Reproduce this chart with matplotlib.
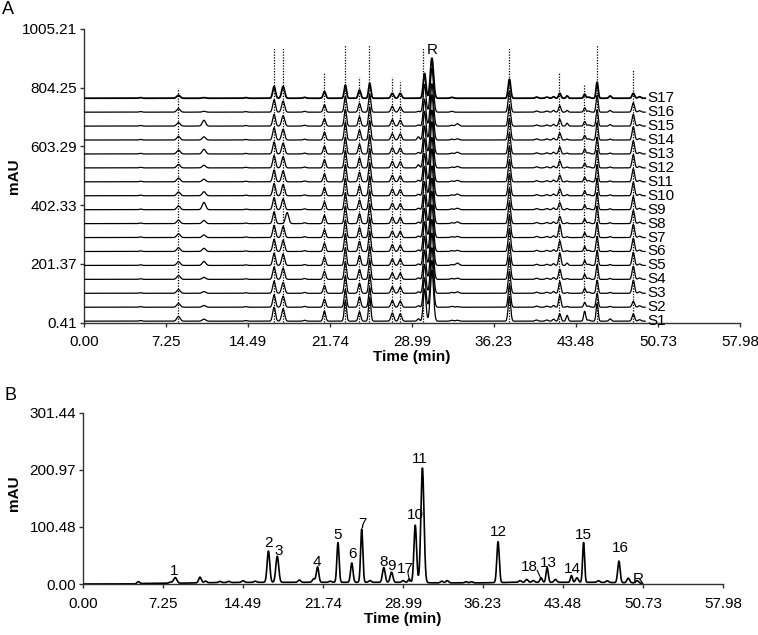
import numpy as np
import matplotlib
matplotlib.use("Agg")
import matplotlib.pyplot as plt

plt.rcParams['font.family'] = ['Liberation Sans', 'DejaVu Sans']

# ---------------- data ----------------
x_ticks = [0.00, 7.25, 14.49, 21.74, 28.99, 36.23, 43.48, 50.73, 57.98]
x_tick_labels = ["0.00", "7.25", "14.49", "21.74", "28.99", "36.23", "43.48", "50.73", "57.98"]
a_y_ticks = [0.41, 201.37, 402.33, 603.29, 804.25, 1005.21]
a_y_tick_labels = ["0.41", "201.37", "402.33", "603.29", "804.25", "1005.21"]
b_y_ticks = [0.00, 100.48, 200.97, 301.44]
b_y_tick_labels = ["0.00", "100.48", "200.97", "301.44"]

sample_names = ["S1", "S2", "S3", "S4", "S5", "S6", "S7", "S8", "S9",
                "S10", "S11", "S12", "S13", "S14", "S15", "S16", "S17"]

# common peaks 1..16, then 17, 18
peak_labels = ["1", "2", "3", "4", "5", "6", "7", "8", "9", "10",
               "11", "12", "13", "14", "15", "16", "17", "18"]
peak_rt = [8.35, 16.8, 17.6, 21.25, 23.1, 24.35, 25.25, 27.25, 27.95, 30.1,
           30.75, 37.6, 42.05, 44.25, 45.35, 48.55, 29.55, 41.5]
peak_sigma = [0.15, 0.12, 0.13, 0.11, 0.10, 0.11, 0.10, 0.12, 0.12, 0.12,
              0.14, 0.11, 0.10, 0.09, 0.09, 0.11, 0.10, 0.10]

# panel A: heights (mAU) of peaks 1..18 for each sample
hA_S1  = [16, 48, 42, 34, 70, 32, 80, 28, 25, 110, 175, 85, 25, 34, 60, 25, 8, 7]
hA_S2  = [13, 42, 38, 28, 61, 35, 67, 23, 21, 101, 160, 77, 40, 17, 48, 20, 5, 6]
hA_S3  = [13, 41, 37, 27, 60, 34, 66, 22, 21, 99, 156, 75, 40, 17, 45, 45, 5, 6]
hA_S4  = [13, 42, 38, 28, 61, 34, 67, 22, 21, 100, 158, 76, 35, 17, 51, 45, 5, 6]
hA_S5  = [13, 42, 38, 28, 60, 34, 66, 22, 21, 100, 157, 75, 43, 17, 51, 45, 5, 6]
hA_S6  = [13, 42, 38, 28, 61, 35, 68, 23, 21, 102, 160, 77, 37, 17, 52, 45, 5, 6]
hA_S7  = [13, 42, 38, 27, 60, 34, 66, 22, 21, 100, 158, 76, 45, 17, 52, 45, 5, 6]
hA_S8  = [12, 40, 0, 28, 60, 34, 66, 22, 21, 98, 155, 74, 25, 16, 60, 45, 5, 6]
hA_S9  = [13, 41, 37, 27, 58, 33, 64, 22, 20, 96, 150, 73, 24, 16, 58, 45, 5, 6]
hA_S10 = [13, 42, 38, 28, 60, 34, 67, 23, 21, 100, 160, 76, 24, 17, 61, 46, 5, 6]
hA_S11 = [13, 41, 37, 27, 59, 33, 65, 22, 20, 97, 152, 73, 23, 16, 59, 45, 5, 6]
hA_S12 = [12, 42, 38, 28, 60, 34, 66, 22, 21, 100, 158, 75, 24, 16, 60, 45, 11, 6]
hA_S13 = [13, 41, 37, 27, 58, 33, 64, 21, 20, 96, 150, 72, 24, 17, 58, 45, 5, 6]
hA_S14 = [12, 42, 37, 27, 60, 34, 66, 22, 21, 98, 155, 74, 24, 16, 60, 45, 11, 6]
hA_S15 = [12, 40, 36, 26, 58, 32, 65, 22, 20, 92, 145, 70, 23, 16, 56, 40, 4, 6]
hA_S16 = [12, 42, 38, 25, 55, 30, 62, 20, 18, 95, 150, 72, 22, 15, 58, 32, 3, 6]
hA_S17 = [10, 40, 40, 23, 45, 28, 51, 17, 17, 85, 137, 65, 17, 14, 55, 17, 0, 5]

# panel A: small peaks present in every sample
a_minor_rt = [5.0, 14.3, 19.5, 32.5, 40.0, 40.9, 44.6, 49.1]
a_minor_h = [2, 2, 3, 3, 4, 4, 4, 5]
# panel A: sample-dependent small peaks (S1..S17)
a_p106_h = [7, 6, 6, 7, 14, 11, 9, 11, 25, 14, 9, 9, 16, 11, 20, 3, 2]    # ~10.6 min
a_p330_h = [3, 2, 5, 4, 8, 4, 4, 6, 5, 6, 5, 5, 6, 4, 8, 0, 0]             # ~33.0 min
a_p427_h = [20, 3, 3, 3, 8, 3, 3, 3, 4, 4, 3, 3, 3, 3, 10, 6, 8]           # ~42.7 min
a_p465_h = [8, 3, 3, 3, 3, 3, 3, 3, 3, 3, 3, 3, 3, 3, 5, 6, 8]             # ~46.5 min
a_s8_shift_rt = 17.95   # peak 3 of S8 elutes late
a_s8_shift_h = 38

# dotted marker lines in panel A
dot_rt = [8.3, 16.8, 17.6, 21.2, 23.1, 24.3, 25.15, 27.2, 27.9, 30.0, 37.6, 42.0, 44.2, 45.3, 48.5]
dot_top = [804, 945, 945, 856, 951, 842, 951, 842, 825, 945, 945, 859, 815, 951, 866]
dot_bottom = [2, 2, 2, 2, 2, 2, 2, 2, 2, 2, 2, 2, 85, 2, 2]

# panel B: reference fingerprint
hB = [10, 55, 46, 27, 70, 34, 94, 26, 18, 101, 202, 72, 26, 12, 70, 38, 6, 8]
b_minor_rt = [5.0, 7.9, 10.6, 11.1, 12.4, 13.2, 14.5, 15.6, 19.6, 20.9, 22.4, 26.0,
              29.0, 32.5, 33.0, 34.7, 35.2, 39.6, 40.2, 40.8, 42.8, 44.75, 46.7, 47.5, 49.4, 50.2]
b_minor_h = [4, 2, 10, 3, 2, 2, 3, 2, 4, 6, 2, 3,
             3, 3, 4, 2, 2, 3, 5, 3, 5, 8, 3, 3, 8, 4]
b_base_t = [0, 4.8, 5.5, 9, 12, 16, 20, 29, 32, 36, 39, 46, 50.4, 50.7]
b_base_v = [0, 0, 1, 1.5, 2.5, 3, 3, 3, 2, 2, 3, 3, 2, 0]

# panel B peak labels: (text, time, mAU)
b_lab_text = ["1", "2", "3", "4", "5", "6", "7", "8", "9", "17", "10", "11",
              "12", "18", "13", "14", "15", "16", "R"]
b_lab_t = [8.3, 16.85, 17.75, 21.2, 23.1, 24.4, 25.3, 27.2, 27.95, 29.2, 30.1, 30.55,
           37.6, 40.45, 42.15, 44.3, 45.3, 48.7, 50.3]
b_lab_v = [23, 72, 58, 39, 86, 53, 106, 39, 32, 26, 122, 220,
           92, 30, 37, 26, 86, 63, 9]

# ---------------- drawing ----------------
def peaks(t, rts, hs, sigs):
    y = np.zeros_like(t)
    for r, h, s in zip(rts, hs, sigs):
        y += h * np.exp(-0.5 * ((t - r) / s) ** 2)
    return y

fig = plt.figure(figsize=(7.58, 6.35), dpi=100)
axA = fig.add_axes([84 / 758, 1 - 322.5 / 635, (740 - 84) / 758, (322.5 - 29) / 635])
axB = fig.add_axes([83 / 758, 1 - 584 / 635, (723 - 83) / 758, (584 - 413) / 635])

heights_A = [hA_S1, hA_S2, hA_S3, hA_S4, hA_S5, hA_S6, hA_S7, hA_S8, hA_S9,
             hA_S10, hA_S11, hA_S12, hA_S13, hA_S14, hA_S15, hA_S16, hA_S17]

tA = np.linspace(0, 49.6, 8000)
for i, name in enumerate(sample_names):
    off = 5 + i * 47.7
    y = peaks(tA, peak_rt, heights_A[i], peak_sigma)
    y += peaks(tA, a_minor_rt, a_minor_h, [0.12] * len(a_minor_rt))
    y += peaks(tA, [10.6, 33.0, 42.7, 46.5],
               [a_p106_h[i], a_p330_h[i], a_p427_h[i], a_p465_h[i]],
               [0.15, 0.15, 0.09, 0.1])
    if name == "S8":
        y += peaks(tA, [a_s8_shift_rt], [a_s8_shift_h], [0.14])
    lw = 1.3 if name == "S17" else 0.9
    axA.plot(tA, off + y, color="black", lw=lw, zorder=3)
    axA.text(49.75, off, name, ha="left", va="center", fontsize=11, zorder=4)

axA.vlines(dot_rt, dot_bottom, dot_top, colors="black", linestyles=(0, (1, 1.2)),
           lw=0.9, zorder=2)
axA.text(30.78, 934, "R", ha="center", va="center", fontsize=11)

tB = np.linspace(0, 50.7, 8000)
yB = np.interp(tB, b_base_t, b_base_v)
yB += peaks(tB, peak_rt, hB, peak_sigma)
yB += peaks(tB, b_minor_rt, b_minor_h, [0.12] * len(b_minor_rt))
axB.plot(tB, yB, color="black", lw=1.2, zorder=3)
for s, tt, vv in zip(b_lab_text, b_lab_t, b_lab_v):
    axB.text(tt, vv, s, ha="center", va="center", fontsize=11)
axB.plot([29.45, 29.6], [18, 5], color="black", lw=0.8)
axB.plot([41.15, 41.5], [24, 9], color="black", lw=0.8)

for ax, yt, ytl, ylim in [(axA, a_y_ticks, a_y_tick_labels, (0.41, 1005.21)),
                          (axB, b_y_ticks, b_y_tick_labels, (0.0, 301.44))]:
    ax.set_xlim(0, 57.98)
    ax.set_ylim(*ylim)
    ax.set_xticks(x_ticks)
    ax.set_xticklabels(x_tick_labels)
    ax.set_yticks(yt)
    ax.set_yticklabels(ytl)
    for sp in ["top", "right"]:
        ax.spines[sp].set_visible(False)
    for sp in ["left", "bottom"]:
        ax.spines[sp].set_color("#333333")
        ax.spines[sp].set_linewidth(1.0)
    ax.tick_params(axis="both", direction="out", length=3, width=1,
                   color="#333333", labelsize=11)
    ax.tick_params(axis="x", pad=6)
    ax.tick_params(axis="y", pad=2)
    ax.patch.set_visible(False)

fig.text(412 / 758, 1 - 357 / 635, "Time (min)", ha="center", va="center",
         fontsize=11, fontweight="bold")
fig.text(403 / 758, 1 - 619 / 635, "Time (min)", ha="center", va="center",
         fontsize=11, fontweight="bold")
fig.text(14 / 758, 1 - 176 / 635, "mAU", ha="center", va="center", rotation=90,
         fontsize=11, fontweight="bold")
fig.text(14 / 758, 1 - 493 / 635, "mAU", ha="center", va="center", rotation=90,
         fontsize=11, fontweight="bold")
fig.text(8 / 758, 1 - 9 / 635, "A", ha="center", va="center", fontsize=13)
fig.text(10 / 758, 1 - 395 / 635, "B", ha="center", va="center", fontsize=13)

fig.savefig("out.png", dpi=100)
